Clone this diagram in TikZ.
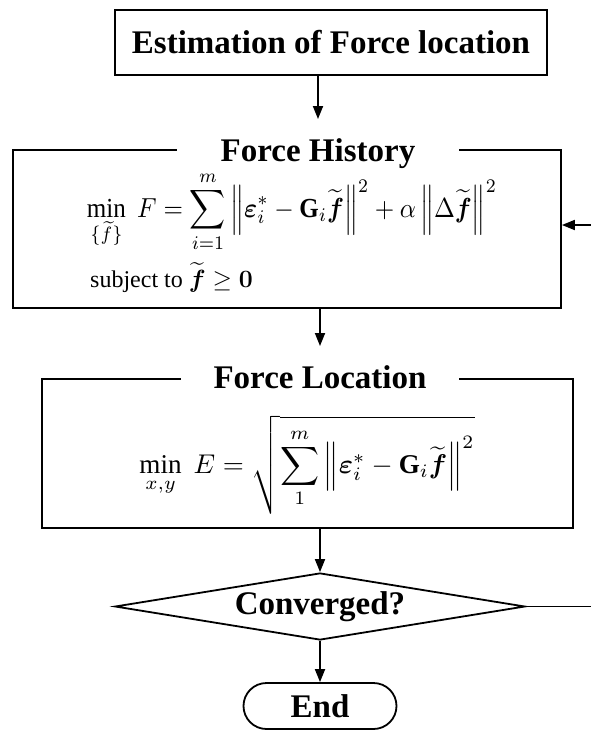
\documentclass[tikz,border=0pt]{standalone}
\usepackage{amsmath}
\usepackage{fontspec}
\setmainfont{Liberation Serif}
\usetikzlibrary{arrows.meta,shapes.geometric}
\begin{document}
\begin{tikzpicture}[x=1pt,y=-1pt,
  box/.style={draw,line width=1.8pt,inner sep=0pt},
  ttl/.style={font=\fontsize{33}{36}\selectfont\bfseries},
  sectitle/.style={ttl,fill=white,anchor=base,inner ysep=2pt,outer ysep=17pt,text height=23pt,text depth=7pt},
  arr/.style={line width=1.8pt,-{Triangle[length=13pt,width=10pt]}},
  ln/.style={line width=1.8pt}]
\useasboundingbox[fill=white] (0,0) rectangle (591,732);
% top box
\node[box,ttl,minimum width=432pt,minimum height=65pt] (est) at (331,42.5) {Estimation of Force location};
% Force History
\node[box,minimum width=548pt,minimum height=158pt] (fh) at (287,229) {};
\node[sectitle,inner xsep=44pt] (fht) at (318,161) {Force History};
\node (eq1) at (292,212) {\scalebox{1}[1.1]{\resizebox{410pt}{!}{$\displaystyle \min_{\{\widetilde{f}\}}\; F=\sum_{i=1}^{m}\left\|\boldsymbol{\varepsilon}_i^{*}-\mathbf{G}_i\widetilde{\boldsymbol{f}}\right\|^2+\alpha\left\|\Delta\widetilde{\boldsymbol{f}}\right\|^2$}}};
\node[anchor=base west,inner sep=0pt,font=\fontsize{24}{28}\selectfont] (subj) at (90,287) {subject to $\widetilde{\boldsymbol{f}}\geq\boldsymbol{0}$};
% Force Location
\node[box,minimum width=531pt,minimum height=149pt] (fl) at (307.5,453.5) {};
\node[sectitle,inner xsep=33pt] (flt) at (320,388) {Force Location};
\node (eq2) at (307,465) {\resizebox{335pt}{!}{$\displaystyle \min_{x,y}\; E=\sqrt{\sum_{1}^{m}\left\|\boldsymbol{\varepsilon}_i^{*}-\mathbf{G}_i\widetilde{\boldsymbol{f}}\right\|^2}$}};
% decision
\node[box,ttl,diamond,aspect=6.1,minimum width=410pt,minimum height=67pt] (conv) at (320,606.5) {Converged?};
% end
\node[box,ttl,rounded corners=23pt,minimum width=153pt,minimum height=46pt] (end) at (320,706) {End};
% connectors
\draw[arr] (est.south -| fht.north) -- (fht.north);
\draw[arr] (fh.south -| flt.north) -- (flt.north);
\draw[arr] (fl.south -| conv.north) -- (conv.north);
\draw[arr] (conv.south) -- (end.north);
\coordinate (fbR) at (591,606.5);
\coordinate (fbT) at (591,225);
\draw[ln] (conv.east) -- (fbR);
\draw[arr] (fbT) -- (fh.east |- fbT);
\end{tikzpicture}
\end{document}
